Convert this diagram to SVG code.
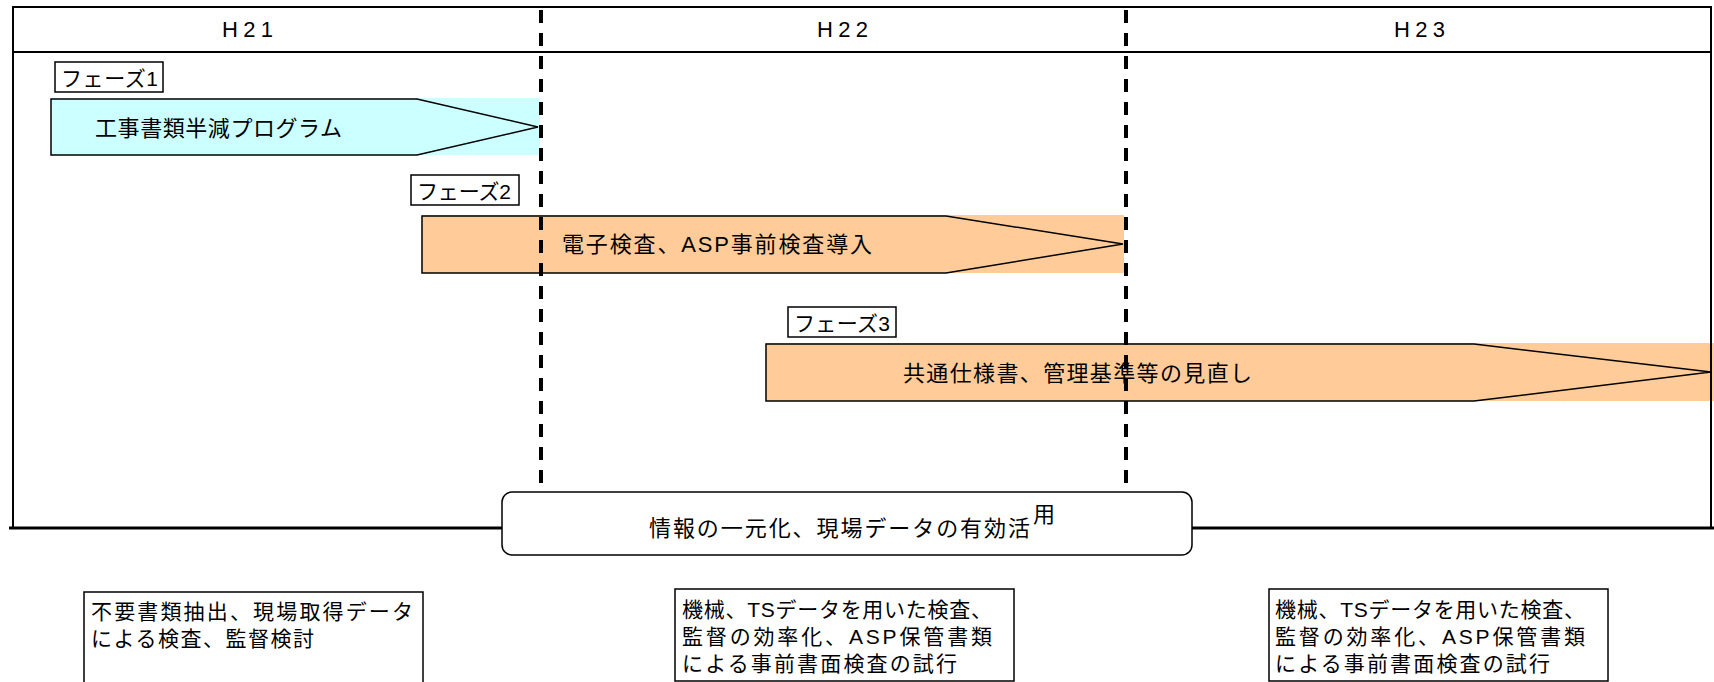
<svg xmlns="http://www.w3.org/2000/svg" width="1714" height="682" viewBox="0 0 1714 682">
<style>
text{font-family:"Liberation Sans","Noto Sans CJK JP",sans-serif;fill:#000}
.hd{font-size:22px}
.lb{font-size:21px}
.tx{font-size:22px}
.nt{font-size:21px}
.frame{stroke:#000;stroke-width:2;fill:none}
.box{fill:#fff;stroke:#000;stroke-width:1.5}
.arrow{fill:none;stroke:#000;stroke-width:1.5;stroke-linejoin:miter}
.div{stroke:#000;stroke-width:4;stroke-dasharray:13 10;fill:none}
</style>
<rect width="1714" height="682" fill="#fff"/>

<g id="phase1">
<rect x="51" y="98" width="489" height="57" fill="#CCFFFF"/>
<path class="arrow" d="M51,99 H417 L538,127 L417,155 H51 Z"/>
<text class="tx" x="95" y="136" textLength="247" lengthAdjust="spacing">工事書類半減プログラム</text>
</g>
<g id="phase2">
<rect x="422" y="215" width="702" height="58" fill="#FFCC99"/>
<path class="arrow" d="M422,216 H946 L1123,244 L946,273 H422 Z"/>
<text class="tx" x="562" y="252" textLength="310" lengthAdjust="spacing">電子検査、ASP事前検査導入</text>
</g>
<g id="phase3">
<rect x="766" y="343" width="948" height="58" fill="#FFCC99"/>
<path class="arrow" d="M766,344 H1474 L1711,372 L1474,401 H766 Z"/>
<text class="tx" x="903" y="381" textLength="349" lengthAdjust="spacing">共通仕様書、管理基準等の見直し</text>
</g>

<g id="frame">
<line class="frame" x1="13" y1="7" x2="1712" y2="7"/>
<line class="frame" x1="13" y1="52" x2="1712" y2="52"/>
<line class="frame" x1="13" y1="6" x2="13" y2="528"/>
<line class="frame" x1="1711" y1="6" x2="1711" y2="528"/>
<line x1="9" y1="528" x2="1714" y2="528" stroke="#000" stroke-width="3"/>
<text class="hd" x="222" y="37" textLength="51" lengthAdjust="spacing">H21</text>
<text class="hd" x="817" y="37" textLength="51" lengthAdjust="spacing">H22</text>
<text class="hd" x="1394" y="37" textLength="51" lengthAdjust="spacing">H23</text>
</g>

<g id="dividers">
<line class="div" x1="541" y1="10" x2="541" y2="493"/>
<line class="div" x1="1126" y1="10" x2="1126" y2="491"/>
</g>

<g id="label1">
<rect class="box" x="55" y="62" width="108" height="30"/>
<text class="lb" x="61" y="86" textLength="97" lengthAdjust="spacing">フェーズ1</text>
</g>
<g id="label2">
<rect class="box" x="411" y="175" width="108" height="30"/>
<text class="lb" x="417" y="199" textLength="94" lengthAdjust="spacing">フェーズ2</text>
</g>
<g id="label3">
<rect class="box" x="788" y="307" width="108" height="30"/>
<text class="lb" x="794" y="331" textLength="96" lengthAdjust="spacing">フェーズ3</text>
</g>

<g id="info">
<rect class="box" x="502" y="492" width="690" height="63" rx="10" ry="10"/>
<text class="tx" x="649" y="536" textLength="381" lengthAdjust="spacing">情報の一元化、現場データの有効活</text>
<text class="tx" x="1033" y="522">用</text>
</g>

<g id="note1">
<rect class="box" x="84" y="592" width="339" height="110"/>
<text class="nt" x="91" y="619" textLength="322" lengthAdjust="spacing">不要書類抽出、現場取得データ</text>
<text class="nt" x="91" y="646" textLength="223" lengthAdjust="spacing">による検査、監督検討</text>
</g>
<g id="note2">
<rect class="box" x="675" y="589" width="339" height="92"/>
<text class="nt" x="682" y="617" textLength="310" lengthAdjust="spacing">機械、TSデータを用いた検査、</text>
<text class="nt" x="682" y="644" textLength="310" lengthAdjust="spacing">監督の効率化、ASP保管書類</text>
<text class="nt" x="682" y="671" textLength="275" lengthAdjust="spacing">による事前書面検査の試行</text>
</g>
<g id="note3">
<rect class="box" x="1269" y="589" width="339" height="92"/>
<text class="nt" x="1275" y="617" textLength="310" lengthAdjust="spacing">機械、TSデータを用いた検査、</text>
<text class="nt" x="1275" y="644" textLength="310" lengthAdjust="spacing">監督の効率化、ASP保管書類</text>
<text class="nt" x="1275" y="671" textLength="275" lengthAdjust="spacing">による事前書面検査の試行</text>
</g>
</svg>
